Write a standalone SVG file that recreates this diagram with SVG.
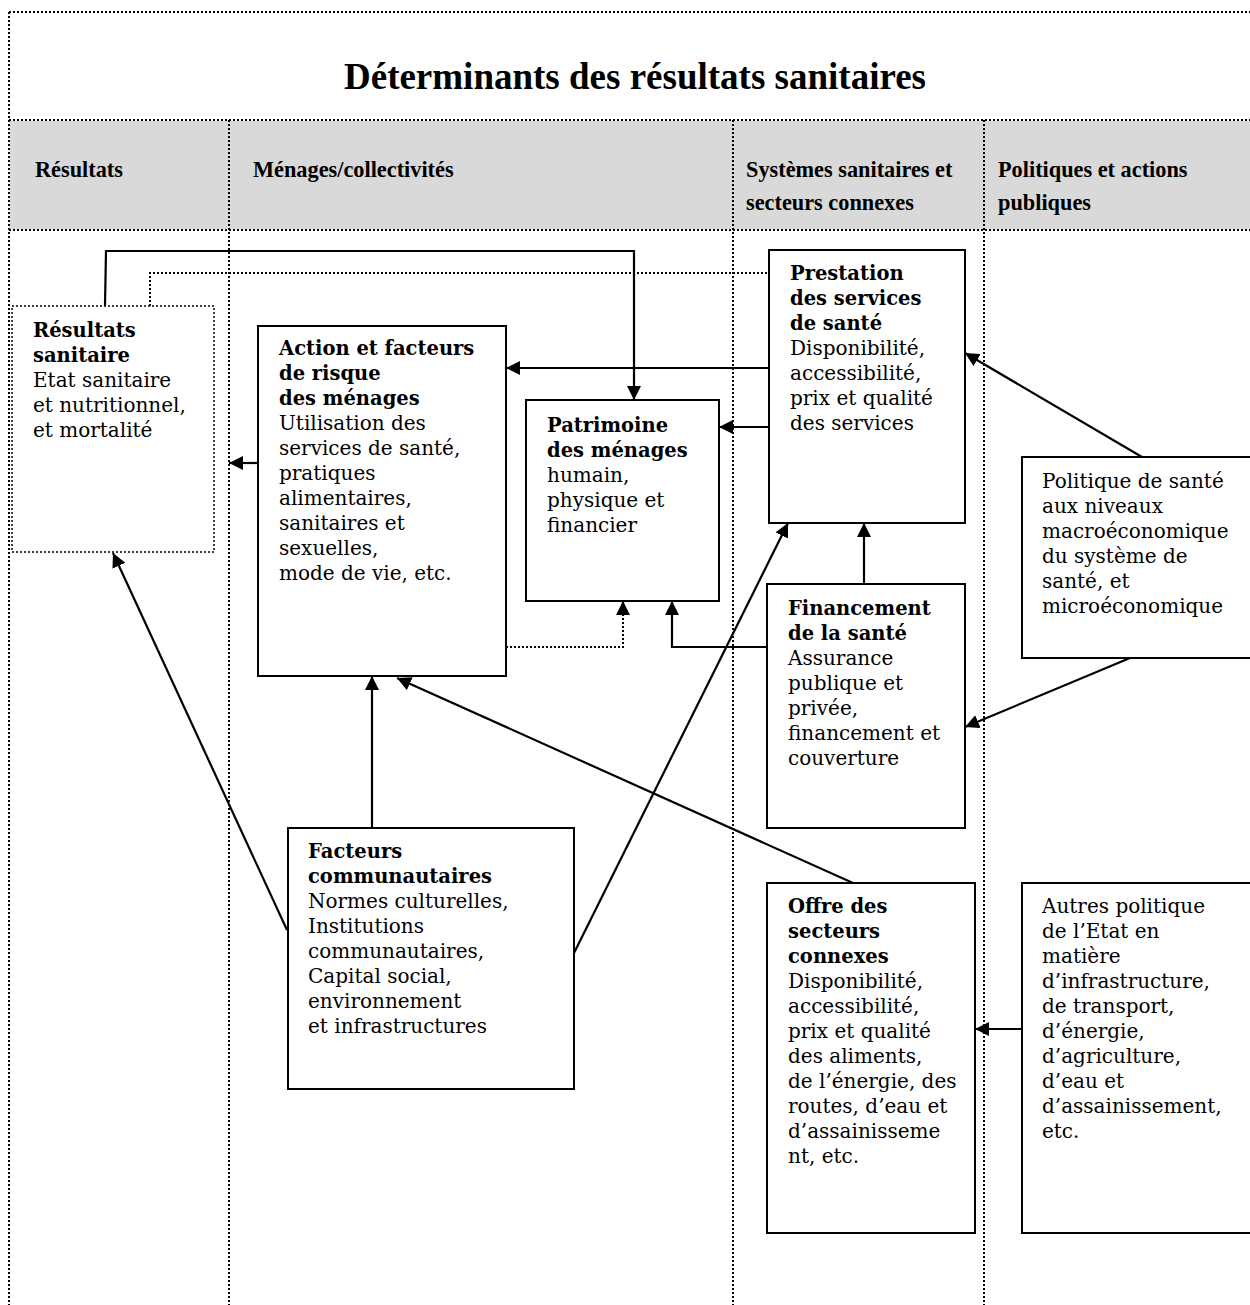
<svg xmlns="http://www.w3.org/2000/svg" width="1250" height="1305" viewBox="0 0 1250 1305">
<defs>
<style>
.frame{fill:none;stroke:#000;stroke-width:2;stroke-dasharray:2 2}
.box{fill:#fff;stroke:#000;stroke-width:2}
.dbox{fill:#fff;stroke:#000;stroke-width:1.5;stroke-dasharray:2 2}
.conn{fill:none;stroke:#000;stroke-width:2.2}
.dconn{fill:none;stroke:#000;stroke-width:2;stroke-dasharray:2 2}
.t{font-family:"DejaVu Serif",serif;font-size:20px;fill:#000}
.b{font-weight:bold;font-size:19.5px}
.h{font-family:"Liberation Serif","Times New Roman",serif;font-weight:bold;font-size:22.3px;fill:#000}
.title{font-family:"Liberation Serif","Times New Roman",serif;font-weight:bold;font-size:37px;fill:#000}
</style>
<marker id="arr" viewBox="0 0 14 14" refX="14" refY="7" markerWidth="14" markerHeight="14" markerUnits="userSpaceOnUse" orient="auto">
<path d="M0,0 L14,7 L0,14 z" fill="#000"/>
</marker>
</defs>
<rect width="1250" height="1305" fill="#fff"/>
<g id="frame">
<rect x="10" y="121" width="1240" height="108" fill="#d9d9d9"/>
<line class="frame" x1="9" y1="12" x2="1250" y2="12"/>
<line class="frame" x1="9" y1="120" x2="1250" y2="120"/>
<line class="frame" x1="9" y1="230" x2="1250" y2="230"/>
<line class="frame" x1="9" y1="12" x2="9" y2="1305"/>
<line class="frame" x1="229" y1="120" x2="229" y2="1305"/>
<line class="frame" x1="733" y1="120" x2="733" y2="1305"/>
<line class="frame" x1="984" y1="120" x2="984" y2="1305"/>
<text class="title" x="635" y="89" text-anchor="middle">Déterminants des résultats sanitaires</text>
<text class="h" x="35" y="177">Résultats</text>
<text class="h" x="253" y="177">Ménages/collectivités</text>
<text class="h" x="746" y="177">Systèmes sanitaires et</text>
<text class="h" x="746" y="210">secteurs connexes</text>
<text class="h" x="998" y="177">Politiques et actions</text>
<text class="h" x="998" y="210">publiques</text>
</g>
<g id="connectors">
<polyline class="conn" points="105,306 106,251 634,251 634,400" marker-end="url(#arr)"/>
<polyline class="dconn" points="150,306 150,273 769,273"/>
<line class="conn" x1="258" y1="463" x2="229" y2="463" marker-end="url(#arr)"/>
<line class="conn" x1="769" y1="368" x2="506" y2="368" marker-end="url(#arr)"/>
<line class="conn" x1="769" y1="427" x2="719" y2="427" marker-end="url(#arr)"/>
<polyline class="dconn" points="506,647 623,647 623,615"/>
<line class="conn" x1="623" y1="616" x2="623" y2="601" marker-end="url(#arr)"/>
<polyline class="conn" points="767,647 672,647 672,601" marker-end="url(#arr)"/>
<line class="conn" x1="372" y1="828" x2="372" y2="676" marker-end="url(#arr)"/>
<line class="conn" x1="287" y1="930" x2="113" y2="553" marker-end="url(#arr)"/>
<line class="conn" x1="574" y1="953" x2="788" y2="523" marker-end="url(#arr)"/>
<line class="conn" x1="853" y1="883" x2="397" y2="678" marker-end="url(#arr)"/>
<line class="conn" x1="864" y1="584" x2="864" y2="523" marker-end="url(#arr)"/>
<line class="conn" x1="1142" y1="457" x2="965" y2="353" marker-end="url(#arr)"/>
<line class="conn" x1="1130" y1="658" x2="965" y2="727" marker-end="url(#arr)"/>
<line class="conn" x1="1022" y1="1029" x2="975" y2="1029" marker-end="url(#arr)"/>
</g>
<g id="resultats">
<rect class="dbox" x="12" y="306" width="202" height="246"/>
<text class="t" x="33" y="337"><tspan class="b">Résultats</tspan><tspan class="b" x="33" dy="25">sanitaire</tspan><tspan x="33" dy="25">Etat sanitaire</tspan><tspan x="33" dy="25">et nutritionnel,</tspan><tspan x="33" dy="25">et mortalité</tspan></text>
</g>
<g id="action">
<rect class="box" x="258" y="326" width="248" height="350"/>
<text class="t" x="279" y="355"><tspan class="b">Action et facteurs</tspan><tspan class="b" x="279" dy="25">de risque</tspan><tspan class="b" x="279" dy="25">des ménages</tspan><tspan x="279" dy="25">Utilisation des</tspan><tspan x="279" dy="25">services de santé,</tspan><tspan x="279" dy="25">pratiques</tspan><tspan x="279" dy="25">alimentaires,</tspan><tspan x="279" dy="25">sanitaires et</tspan><tspan x="279" dy="25">sexuelles,</tspan><tspan x="279" dy="25">mode de vie, etc.</tspan></text>
</g>
<g id="patrimoine">
<rect class="box" x="526" y="400" width="193" height="201"/>
<text class="t" x="547" y="432"><tspan class="b">Patrimoine</tspan><tspan class="b" x="547" dy="25">des ménages</tspan><tspan x="547" dy="25">humain,</tspan><tspan x="547" dy="25">physique et</tspan><tspan x="547" dy="25">financier</tspan></text>
</g>
<g id="prestation">
<rect class="box" x="769" y="250" width="196" height="273"/>
<text class="t" x="790" y="280"><tspan class="b">Prestation</tspan><tspan class="b" x="790" dy="25">des services</tspan><tspan class="b" x="790" dy="25">de santé</tspan><tspan x="790" dy="25">Disponibilité,</tspan><tspan x="790" dy="25">accessibilité,</tspan><tspan x="790" dy="25">prix et qualité</tspan><tspan x="790" dy="25">des services</tspan></text>
</g>
<g id="financement">
<rect class="box" x="767" y="584" width="198" height="244"/>
<text class="t" x="788" y="615"><tspan class="b">Financement</tspan><tspan class="b" x="788" dy="25">de la santé</tspan><tspan x="788" dy="25">Assurance</tspan><tspan x="788" dy="25">publique et</tspan><tspan x="788" dy="25">privée,</tspan><tspan x="788" dy="25">financement et</tspan><tspan x="788" dy="25">couverture</tspan></text>
</g>
<g id="politique">
<rect class="box" x="1022" y="457" width="240" height="201"/>
<text class="t" x="1042" y="488"><tspan>Politique de santé</tspan><tspan x="1042" dy="25">aux niveaux</tspan><tspan x="1042" dy="25">macroéconomique</tspan><tspan x="1042" dy="25">du système de</tspan><tspan x="1042" dy="25">santé, et</tspan><tspan x="1042" dy="25">microéconomique</tspan></text>
</g>
<g id="facteurs">
<rect class="box" x="288" y="828" width="286" height="261"/>
<text class="t" x="308" y="858"><tspan class="b">Facteurs</tspan><tspan class="b" x="308" dy="25">communautaires</tspan><tspan x="308" dy="25">Normes culturelles,</tspan><tspan x="308" dy="25">Institutions</tspan><tspan x="308" dy="25">communautaires,</tspan><tspan x="308" dy="25">Capital social,</tspan><tspan x="308" dy="25">environnement</tspan><tspan x="308" dy="25">et infrastructures</tspan></text>
</g>
<g id="offre">
<rect class="box" x="767" y="883" width="208" height="350"/>
<text class="t" x="788" y="913"><tspan class="b">Offre des</tspan><tspan class="b" x="788" dy="25">secteurs</tspan><tspan class="b" x="788" dy="25">connexes</tspan><tspan x="788" dy="25">Disponibilité,</tspan><tspan x="788" dy="25">accessibilité,</tspan><tspan x="788" dy="25">prix et qualité</tspan><tspan x="788" dy="25">des aliments,</tspan><tspan x="788" dy="25">de l’énergie, des</tspan><tspan x="788" dy="25">routes, d’eau et</tspan><tspan x="788" dy="25">d’assainisseme</tspan><tspan x="788" dy="25">nt, etc.</tspan></text>
</g>
<g id="autres">
<rect class="box" x="1022" y="883" width="240" height="350"/>
<text class="t" x="1042" y="913"><tspan>Autres politique</tspan><tspan x="1042" dy="25">de l’Etat en</tspan><tspan x="1042" dy="25">matière</tspan><tspan x="1042" dy="25">d’infrastructure,</tspan><tspan x="1042" dy="25">de transport,</tspan><tspan x="1042" dy="25">d’énergie,</tspan><tspan x="1042" dy="25">d’agriculture,</tspan><tspan x="1042" dy="25">d’eau et</tspan><tspan x="1042" dy="25">d’assainissement,</tspan><tspan x="1042" dy="25">etc.</tspan></text>
</g>
</svg>
